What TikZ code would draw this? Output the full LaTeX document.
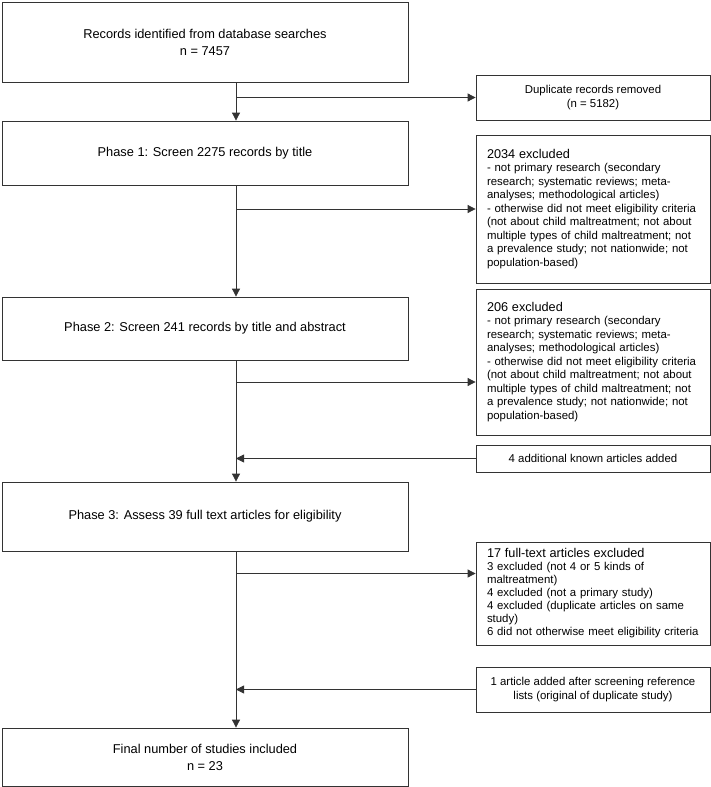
\documentclass[tikz,border=0pt]{standalone}
\usepackage{fontspec}
\setmainfont{Liberation Sans}
\usetikzlibrary{arrows.meta}
\tikzset{
  stage/.style={draw=black!80, line width=0.8pt, minimum width=406pt, align=center, font=\fontsize{12.8}{17}\selectfont},
  sidebox/.style={draw=black!80, line width=0.8pt, minimum width=234pt, align=center, font=\fontsize{11.4}{13.5}\selectfont},
  excl/.style={draw=black!80, line width=0.8pt, text width=212pt, inner xsep=11pt, align=left, font=\fontsize{11.4}{13.5}\selectfont},
  flow/.style={draw=black!80, line width=0.8pt, -{Triangle[length=8pt,width=8pt]}}
}
\newcommand{\exclhead}[1]{{\fontsize{12.7}{15}\selectfont #1}}
\begin{document}
\begin{tikzpicture}[x=1pt,y=-1pt]
\useasboundingbox (0,0) rectangle (711,787);
\coordinate (spine) at (236,0);
\node[stage, minimum height=80pt] (rec) at (205,42) {Records identified from database searches\\n = 7457};
\node[stage, minimum height=64pt] (ph1) at (205,153) {Phase 1: Screen 2275 records by title};
\node[stage, minimum height=63pt] (ph2) at (205,328.5) {Phase 2: Screen 241 records by title and abstract};
\node[stage, minimum height=69pt] (ph3) at (205,516.5) {Phase 3: Assess 39 full text articles for eligibility};
\node[stage, minimum height=58pt] (fin) at (205,757) {Final number of studies included\\n = 23};
\node[sidebox, minimum height=45pt] (dup) at (593,97.5) {Duplicate records removed\\(n = 5182)};
\node[excl, minimum height=148pt] (ex1) at (593,209) {\exclhead{2034 excluded}\\
- not primary research (secondary\\
research; systematic reviews; meta-\\
analyses; methodological articles)\\
- otherwise did not meet eligibility criteria\\
(not about child maltreatment; not about\\
multiple types of child maltreatment; not\\
a prevalence study; not nationwide; not\\
population-based)\\[-6pt]};
\node[excl, minimum height=146pt] (ex2) at (593,362) {\exclhead{206 excluded}\\
- not primary research (secondary\\
research; systematic reviews; meta-\\
analyses; methodological articles)\\
- otherwise did not meet eligibility criteria\\
(not about child maltreatment; not about\\
multiple types of child maltreatment; not\\
a prevalence study; not nationwide; not\\
population-based)\\[-6pt]};
\node[sidebox, minimum height=27pt] (add) at (593,458.5) {4 additional known articles added};
\node[excl, minimum height=103pt, font=\fontsize{11.4}{13}\selectfont] (ex3) at (593,593.5) {\exclhead{17 full-text articles excluded}\\
3 excluded (not 4 or 5 kinds of\\
maltreatment)\\
4 excluded (not a primary study)\\
4 excluded (duplicate articles on same\\
study)\\
6 did not otherwise meet eligibility criteria};
\node[sidebox, minimum height=45pt] (ref) at (593,689.5) {1 article added after screening reference\\lists (original of duplicate study)};
\coordinate (ex2in) at ([yshift=-20pt]ex2.west);
\coordinate (ex3in) at ([yshift=20pt]ex3.west);
\draw[flow] (rec.south -| spine) -- (ph1.north -| spine);
\draw[flow] (spine |- dup.west) -- (dup.west);
\draw[flow] (ph1.south -| spine) -- (ph2.north -| spine);
\draw[flow] (spine |- ex1.west) -- (ex1.west);
\draw[flow] (ph2.south -| spine) -- (ph3.north -| spine);
\draw[flow] (spine |- ex2in) -- (ex2in);
\draw[flow] (add.west) -- (spine |- add.west);
\draw[flow] (ph3.south -| spine) -- (fin.north -| spine);
\draw[flow] (spine |- ex3in) -- (ex3in);
\draw[flow] (ref.west) -- (spine |- ref.west);
\end{tikzpicture}
\end{document}
